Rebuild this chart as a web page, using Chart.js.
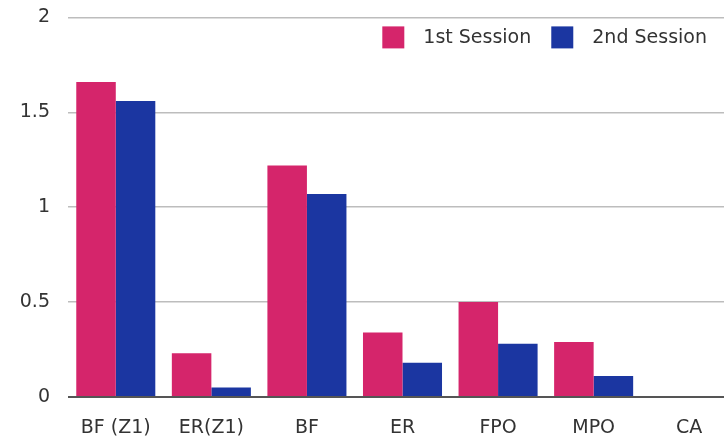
<!DOCTYPE html>
<html>
<head>
<meta charset="utf-8">
<script src="https://cdn.jsdelivr.net/npm/chart.js@4"></script>
<style>
  html, body { margin: 0; padding: 0; background: #fff; overflow: hidden; }
  #wrap { width: 740px; height: 455px; margin-top: -12px; }
</style>
</head>
<body>
<div id="wrap"><canvas id="chart"></canvas></div>
<script>
const categories = ["BF (Z1)", "ER(Z1)", "BF", "ER", "FPO", "MPO", "CA"];
const firstSession = [1.66, 0.23, 1.22, 0.34, 0.50, 0.29, 0];
const secondSession = [1.56, 0.05, 1.07, 0.18, 0.28, 0.11, 0];
const seriesNames = ["1st Session", "2nd Session"];

const FONT = "'DejaVu Sans', sans-serif";

// legend drawn inside the plot, top right, like the original
const insideLegend = {
  id: "insideLegend",
  afterDraw(chart) {
    const ctx = chart.ctx;
    const area = chart.chartArea;
    const box = 22, gap = 19, itemGap = 20;
    ctx.save();
    ctx.font = "19px " + FONT;
    ctx.textBaseline = "middle";
    const items = chart.data.datasets.map(ds => ({
      text: ds.label, color: ds.backgroundColor, w: ctx.measureText(ds.label).width
    }));
    let total = items.reduce((s, it) => s + box + gap + it.w, 0) + itemGap * (items.length - 1);
    let x = area.right - 30 - total;
    const y = area.top + 20;
    items.forEach(it => {
      ctx.fillStyle = it.color;
      ctx.fillRect(x, y - box / 2, box, box);
      ctx.fillStyle = "#333";
      ctx.fillText(it.text, x + box + gap, y + 1);
      x += box + gap + it.w + itemGap;
    });
    ctx.restore();
  }
};

new Chart(document.getElementById("chart").getContext("2d"), {
  type: "bar",
  data: {
    labels: categories,
    datasets: [
      { label: seriesNames[0], data: firstSession, backgroundColor: "#d5256b" },
      { label: seriesNames[1], data: secondSession, backgroundColor: "#1b36a1" }
    ]
  },
  plugins: [insideLegend],
  options: {
    responsive: true,
    maintainAspectRatio: false,
    animation: false,
    layout: { padding: { top: 0, right: 3, left: 0, bottom: 0 } },
    datasets: { bar: { categoryPercentage: 0.827, barPercentage: 1 } },
    plugins: {
      legend: { display: false },
      tooltip: { enabled: false }
    },
    scales: {
      x: {
        grid: { display: false },
        border: { display: false },
        ticks: { color: "#333", font: { family: FONT, size: 19 }, padding: 12 },
        afterFit(s) { s.height = 46; }
      },
      y: {
        min: 0,
        max: 2,
        border: { display: false },
        grid: {
          drawTicks: false,
          color: ctx => ctx.tick && ctx.tick.value === 0 ? "#555" : "#bdbdbd",
          lineWidth: ctx => ctx.tick && ctx.tick.value === 0 ? 2 : 1.5
        },
        ticks: {
          stepSize: 0.5,
          color: "#333",
          padding: 18,
          font: { family: FONT, size: 19 },
          callback: v => String(v)
        },
        afterFit(s) { s.width = 68; }
      }
    }
  }
});
</script>
</body>
</html>
